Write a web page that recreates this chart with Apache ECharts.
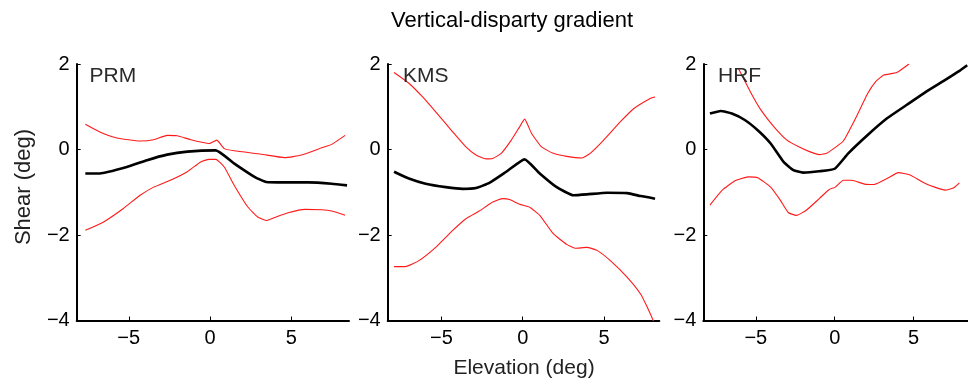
<!DOCTYPE html>
<html>
<head>
<meta charset="utf-8">
<script src="https://cdn.jsdelivr.net/npm/echarts@6/dist/echarts.min.js"></script>
<style>
html,body{margin:0;padding:0;background:#fff;}
#chart{width:968px;height:383px;}
</style>
</head>
<body>
<div id="chart"></div>
<script>
// ---- data (elevation deg, shear deg) ----
var panelNames = ["PRM", "KMS", "HRF"];
var xTicks = [-5, 0, 5];
var yTicks = [-4, -2, 0, 2];

var prmMean = [[-7.67,-0.56],[-6.78,-0.56],[-5.12,-0.41],[-3.88,-0.25],[-2.64,-0.12],[-1.40,-0.05],[0.35,-0.02],[1.49,-0.33],[2.73,-0.64],[3.45,-0.76],[4.59,-0.77],[6.03,-0.77],[7.48,-0.80],[8.42,-0.84]];
var prmUpper = [[-7.67,0.59],[-6.78,0.41],[-5.74,0.27],[-4.30,0.20],[-3.47,0.23],[-2.64,0.33],[-2.02,0.32],[-1.20,0.23],[-0.06,0.14],[0.41,0.22],[0.87,0.02],[1.49,-0.03],[3.14,-0.11],[4.59,-0.19],[5.62,-0.13],[6.86,0.04],[7.48,0.12],[8.30,0.33]];
var prmLower = [[-7.67,-1.89],[-6.57,-1.70],[-5.33,-1.38],[-4.30,-1.07],[-3.47,-0.88],[-2.44,-0.72],[-1.40,-0.52],[-0.58,-0.29],[-0.06,-0.23],[0.35,-0.23],[0.87,-0.41],[1.49,-0.84],[2.31,-1.34],[2.93,-1.58],[3.45,-1.66],[3.97,-1.59],[4.79,-1.48],[5.83,-1.40],[6.86,-1.41],[7.48,-1.44],[8.30,-1.54]];

var kmsMean = [[-7.91,-0.52],[-7.00,-0.68],[-5.97,-0.80],[-4.73,-0.88],[-3.70,-0.92],[-2.87,-0.90],[-2.05,-0.78],[-1.01,-0.52],[0.12,-0.23],[1.05,-0.56],[2.09,-0.88],[3.12,-1.07],[3.95,-1.05],[5.19,-1.01],[6.43,-1.02],[7.25,-1.09],[8.14,-1.15]];
var kmsUpper = [[-7.91,1.80],[-7.00,1.55],[-6.18,1.24],[-5.35,0.88],[-4.32,0.42],[-3.49,0.06],[-2.87,-0.13],[-2.25,-0.22],[-1.84,-0.21],[-1.32,-0.09],[-0.70,0.22],[-0.19,0.53],[0.12,0.71],[0.54,0.38],[1.16,0.06],[1.88,-0.09],[2.71,-0.16],[3.64,-0.20],[4.15,-0.09],[4.98,0.22],[6.01,0.65],[6.84,0.96],[7.87,1.20],[8.14,1.23]];
var kmsLower = [[-7.91,-2.74],[-7.21,-2.74],[-6.38,-2.60],[-5.35,-2.29],[-4.32,-1.90],[-3.49,-1.62],[-2.67,-1.44],[-1.84,-1.23],[-1.22,-1.15],[-0.81,-1.17],[-0.19,-1.28],[0.43,-1.35],[1.05,-1.54],[1.88,-1.97],[2.71,-2.22],[3.22,-2.31],[3.95,-2.29],[4.57,-2.36],[5.39,-2.60],[6.43,-2.99],[7.25,-3.38],[7.65,-3.68],[8.05,-4.02]];

var hrfMean = [[-7.91,0.84],[-7.23,0.90],[-6.52,0.84],[-5.70,0.69],[-4.88,0.45],[-4.06,0.14],[-3.24,-0.29],[-2.62,-0.48],[-2.01,-0.54],[-0.98,-0.51],[0.00,-0.45],[0.86,-0.09],[2.09,0.34],[3.32,0.73],[4.55,1.04],[5.78,1.35],[7.01,1.63],[7.91,1.84],[8.40,1.97]];
var hrfUpper = [[-6.11,1.90],[-5.29,1.31],[-4.67,0.92],[-3.85,0.53],[-3.03,0.22],[-2.21,0.05],[-1.60,-0.05],[-0.98,-0.12],[-0.47,-0.08],[0.04,0.05],[0.55,0.20],[1.27,0.69],[2.09,1.31],[2.60,1.59],[3.11,1.74],[3.93,1.80],[4.71,2.00]];
var hrfLower = [[-7.91,-1.30],[-7.13,-0.95],[-6.31,-0.73],[-5.49,-0.64],[-4.88,-0.66],[-4.06,-0.88],[-3.44,-1.19],[-2.93,-1.48],[-2.42,-1.54],[-1.80,-1.42],[-0.98,-1.15],[-0.37,-0.94],[0.04,-0.88],[0.55,-0.72],[1.07,-0.72],[1.89,-0.81],[2.50,-0.82],[3.32,-0.68],[4.04,-0.54],[4.75,-0.59],[5.78,-0.80],[7.01,-0.95],[7.52,-0.90],[7.91,-0.78]];

var means = [prmMean, kmsMean, hrfMean];
var uppers = [prmUpper, kmsUpper, hrfUpper];
var lowers = [prmLower, kmsLower, hrfLower];

// ---- layout ----
var FONT = "'Liberation Sans', Arial, Helvetica, sans-serif";
var grids = [
  {left: 76.7, top: 64, width: 272.3, height: 256.5},
  {left: 387.7, top: 64, width: 271.6, height: 256.5},
  {left: 703.3, top: 64, width: 273.5, height: 256.5}
];
var xRanges = [[-8.2, 8.54], [-8.3, 8.4], [-8.33, 8.45]];

function minus(v){ return String(v).replace('-', '\u2212'); }

var xAxes = [], yAxes = [], series = [];
for (var i = 0; i < 3; i++) {
  xAxes.push({
    type: 'value', gridIndex: i, min: xRanges[i][0], max: xRanges[i][1],
    axisLine: {show: true, onZero: false, lineStyle: {color: '#000', width: 2}},
    axisTick: {show: true, inside: true, length: 4, customValues: xTicks, lineStyle: {color: '#000', width: 1}},
    axisLabel: {show: true, customValues: xTicks, margin: 8, color: '#000', fontSize: 20, fontFamily: FONT, formatter: minus},
    splitLine: {show: false}
  });
  yAxes.push({
    type: 'value', gridIndex: i, min: -4, max: 2, interval: 2,
    axisLine: {show: true, onZero: false, lineStyle: {color: '#000', width: 2}},
    axisTick: {show: true, inside: true, length: 4, lineStyle: {color: '#000', width: 1}},
    axisLabel: {show: true, margin: 7, color: '#000', fontSize: 20, fontFamily: FONT, formatter: minus},
    splitLine: {show: false}
  });
  var common = {type: 'line', xAxisIndex: i, yAxisIndex: i, showSymbol: false, symbol: 'none', smooth: 0.15, clip: true, silent: true, animation: false};
  series.push(Object.assign({}, common, {data: uppers[i], lineStyle: {color: '#ff1a1a', width: 1.1}}));
  series.push(Object.assign({}, common, {data: lowers[i], lineStyle: {color: '#ff1a1a', width: 1.1}}));
  series.push(Object.assign({}, common, {data: means[i], lineStyle: {color: '#000', width: 2.6}, z: 5}));
}

var labelX = [89.5, 403, 718];
var graphics = [
  {type: 'text', x: 512, y: 20.5, style: {text: 'Vertical-disparty gradient', font: '22px ' + FONT, fill: '#000', textAlign: 'center', textVerticalAlign: 'middle'}},
  {type: 'text', x: 524, y: 368, style: {text: 'Elevation (deg)', font: '21px ' + FONT, fill: '#222', textAlign: 'center', textVerticalAlign: 'middle'}},
  {type: 'text', x: 24, y: 187, rotation: Math.PI / 2, style: {text: 'Shear (deg)', font: '22px ' + FONT, fill: '#222', textAlign: 'center', textVerticalAlign: 'middle'}}
];
for (var j = 0; j < 3; j++) {
  graphics.push({type: 'text', x: labelX[j], y: 76.5, z: 10, style: {text: panelNames[j], font: '21px ' + FONT, fill: '#2a2a2a', textAlign: 'left', textVerticalAlign: 'middle'}});
}

var chart = echarts.init(document.getElementById('chart'), null, {renderer: 'canvas'});
chart.setOption({
  animation: false,
  backgroundColor: '#fff',
  grid: grids,
  xAxis: xAxes,
  yAxis: yAxes,
  series: series,
  graphic: graphics
});
</script>
</body>
</html>
